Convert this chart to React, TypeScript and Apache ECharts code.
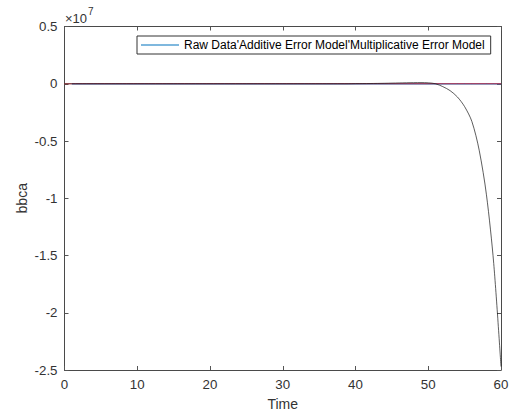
import React, { useEffect, useRef } from "react";
import * as echarts from "echarts";

// Time steps 0..60
const time: number[] = [
  0, 1, 2, 3, 4, 5, 6, 7, 8, 9, 10, 11, 12, 13, 14, 15, 16, 17, 18, 19, 20,
  21, 22, 23, 24, 25, 26, 27, 28, 29, 30, 31, 32, 33, 34, 35, 36, 37, 38, 39, 40,
  41, 42, 43, 44, 45, 46, 47, 48, 49, 50, 51, 52, 53, 54, 55, 56, 57, 58, 59, 60,
];

// Raw data (blue), starts at t = 1; indistinguishable from 0 at this scale
const rawData: (number | null)[] = [
  null, 0, 0, 0, 0, 0, 0, 0, 0, 0, 0, 0, 0, 0, 0, 0, 0, 0, 0, 0, 0,
  0, 0, 0, 0, 0, 0, 0, 0, 0, 0, 0, 0, 0, 0, 0, 0, 0, 0, 0, 0,
  0, 0, 0, 0, 0, 0, 0, 0, 0, 0, 0, 0, 0, 0, 0, 0, 0, 0, 0, 0,
];

// Additive error model (red)
const additiveModel: number[] = [
  0, 0, 0, 0, 0, 0, 0, 0, 0, 0, 0, 0, 0, 0, 0, 0, 0, 0, 0, 0, 0,
  0, 0, 0, 0, 0, 0, 0, 0, 0, 0, 0, 0, 0, 0, 0, 0, 0, 0, 0, 0,
  0, 0, 0, 0, 0, 0, 0, 0, 0, 0, 0, 0, 0, 0, 0, 0, 0, 0, 0, 0,
];

// Multiplicative error model (black)
const multiplicativeModel: number[] = [
  0, 0, 0, 0, 0, 0, 0, 0, 0, 0, 0, 0, 0, 0, 0, 0, 0, 0, 0, 0, 0,
  0, 0, 0, 0, 0, 0, 0, 0, 0, 0, 0, 0, 0, 0, 0, 0, 0, 0, 0, 10000,
  15000, 20000, 30000, 40000, 55000, 70000, 85000, 95000, 100000, 80000,
  0, -250000, -600000, -1150000, -2000000, -3300000, -5800000, -9700000, -15700000, -24700000,
];

const legendLabel = "Raw Data'Additive Error Model'Multiplicative Error Model";
const yTicksScale = 1e7;

const FONT = "'Liberation Sans', Arial, Helvetica, sans-serif";
const AXIS_COLOR = "#4a4a4a";
const TEXT_COLOR = "#333333";

export default function App() {
  const ref = useRef<HTMLDivElement>(null);

  useEffect(() => {
    if (!ref.current) return;
    const chart = echarts.init(ref.current, undefined, { renderer: "svg" });
    const pair = (arr: (number | null)[]) => time.map((t, i) => [t, arr[i]]);

    const axisLineStyle = { show: true, onZero: false, lineStyle: { color: AXIS_COLOR, width: 1 } };
    const tickStyle = { show: true, inside: true, length: 4, lineStyle: { color: "#555555", width: 1 } };

    chart.setOption({
      animation: false,
      backgroundColor: "#ffffff",
      textStyle: { fontFamily: FONT },
      grid: { left: 64.5, right: 13, top: 26.5, bottom: 46, containLabel: false },
      legend: {
        show: true,
        data: [{ name: legendLabel, icon: "path://M0,0L38,0L38,1L0,1Z" }],
        left: 137,
        top: 36,
        orient: "horizontal",
        backgroundColor: "#ffffff",
        borderColor: "#333333",
        borderWidth: 1,
        borderRadius: 0,
        padding: [3, 6, 3, 4],
        itemWidth: 38,
        itemHeight: 1,
        itemGap: 4,
        textStyle: { fontFamily: FONT, fontSize: 12, color: "#000000" },
      },
      xAxis: [
        {
          type: "value",
          min: 0,
          max: 60,
          interval: 10,
          position: "bottom",
          name: "Time",
          nameLocation: "middle",
          nameGap: 27,
          nameMoveOverlap: false,
          nameTextStyle: { fontFamily: FONT, fontSize: 14, color: TEXT_COLOR },
          axisLine: axisLineStyle,
          axisTick: tickStyle,
          axisLabel: { fontFamily: FONT, fontSize: 13.3, color: TEXT_COLOR, margin: 8 },
          splitLine: { show: false },
        },
        {
          type: "value",
          min: 0,
          max: 60,
          interval: 10,
          position: "top",
          axisLine: axisLineStyle,
          axisTick: tickStyle,
          axisLabel: { show: false },
          splitLine: { show: false },
        },
      ],
      yAxis: [
        {
          type: "value",
          min: -2.5e7,
          max: 0.5e7,
          interval: 0.5e7,
          position: "left",
          name: "bbca",
          nameLocation: "middle",
          nameGap: 36,
          nameMoveOverlap: false,
          nameTextStyle: { fontFamily: FONT, fontSize: 14, color: TEXT_COLOR },
          axisLine: axisLineStyle,
          axisTick: tickStyle,
          axisLabel: {
            fontFamily: FONT,
            fontSize: 13.3,
            color: TEXT_COLOR,
            margin: 7,
            formatter: (v: number) => String(Math.round((v / yTicksScale) * 10) / 10),
          },
          splitLine: { show: false },
        },
        {
          type: "value",
          min: -2.5e7,
          max: 0.5e7,
          interval: 0.5e7,
          position: "right",
          axisLine: axisLineStyle,
          axisTick: tickStyle,
          axisLabel: { show: false },
          splitLine: { show: false },
        },
      ],
      graphic: [
        {
          type: "text",
          left: 65,
          top: 6,
          style: {
            text: "{a|×10}{b|7}",
            rich: {
              a: { fontFamily: FONT, fontSize: 13, fill: TEXT_COLOR, padding: [6, 0, 0, 0] },
              b: { fontFamily: FONT, fontSize: 10, fill: TEXT_COLOR, verticalAlign: "top", padding: [0, 0, 0, 1] },
            },
          },
        },
      ],
      series: [
        {
          name: legendLabel,
          type: "line",
          data: pair(rawData),
          showSymbol: false,
          symbol: "none",
          lineStyle: { color: "#0072BD", width: 1.4 },
          itemStyle: { color: "#0072BD" },
          z: 2,
        },
        {
          name: "Additive Error Model",
          type: "line",
          data: pair(additiveModel),
          showSymbol: false,
          symbol: "none",
          lineStyle: { color: "#f0303f", width: 1, opacity: 0.9 },
          z: 3,
        },
        {
          name: "Multiplicative Error Model",
          type: "line",
          data: pair(multiplicativeModel),
          showSymbol: false,
          symbol: "none",
          smooth: 0.3,
          lineStyle: { color: "#1a1a1a", width: 1, opacity: 0.7 },
          z: 4,
        },
      ],
    });

    return () => chart.dispose();
  }, []);

  return (
    <div
      ref={ref}
      style={{ position: "fixed", left: 0, top: 0, width: 514, height: 416, background: "#fff" }}
    />
  );
}
